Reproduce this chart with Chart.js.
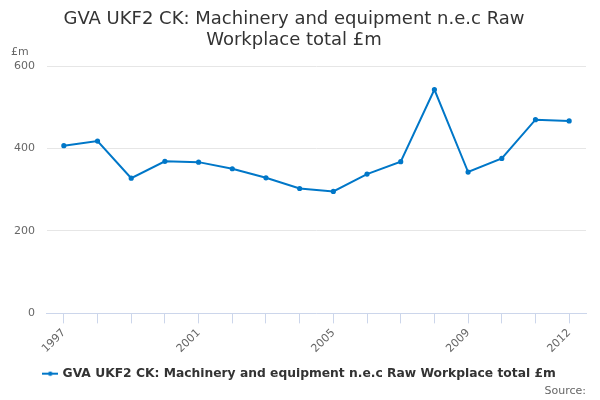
<!DOCTYPE html>
<html>
<head>
<meta charset="utf-8">
<script src="https://cdn.jsdelivr.net/npm/chart.js@4/dist/chart.umd.min.js"></script>
<style>
  html, body { margin: 0; padding: 0; background: #fff; }
  #wrap { width: 600px; height: 400px; }
</style>
</head>
<body>
<div id="wrap"><canvas id="gvaChart"></canvas></div>
<script>
const years = ['1997', '1998', '1999', '2000', '2001', '2002', '2003', '2004',
               '2005', '2006', '2007', '2008', '2009', '2010', '2011', '2012'];
const gvaValues = [407, 418, 328, 369, 367, 351, 329, 303, 296, 338, 368, 543, 343, 376, 470, 467];
const shownYears = ['1997', '2001', '2005', '2009', '2012'];
const yTicks = [0, 200, 400, 600];

const seriesName = 'GVA UKF2 CK: Machinery and equipment n.e.c Raw Workplace total £m';
const lineColor = '#0077c8';
Chart.defaults.font.family = '"DejaVu Sans", sans-serif';

// legend symbol: short line with a dot in the middle
const legendSymbol = document.createElement('canvas');
legendSymbol.width = 16;
legendSymbol.height = 6;
(function () {
    const c = legendSymbol.getContext('2d');
    c.fillStyle = lineColor;
    c.fillRect(0, 2, 16, 2);
    c.beginPath();
    c.arc(8, 3, 2.2, 0, Math.PI * 2);
    c.fill();
})();

// nudges the legend into place and draws the "£m" unit
const extras = {
    id: 'extras',
    afterLayout(chart) {
        const lg = chart.legend;
        lg.left += 6;
        lg.right += 6;
        lg.top += 5;
        lg.bottom += 5;
    },
    afterDraw(chart) {
        const ctx = chart.ctx;
        ctx.save();
        ctx.fillStyle = '#666';
        ctx.font = '11px "DejaVu Sans", sans-serif';
        ctx.textAlign = 'left';
        ctx.textBaseline = 'middle';
        ctx.fillText('£m', 11, chart.chartArea.top - 14);
        ctx.restore();
    }
};

document.addEventListener('DOMContentLoaded', () => {
    const ctx = document.getElementById('gvaChart').getContext('2d');
    new Chart(ctx, {
        type: 'line',
        data: {
            labels: years,
            datasets: [{
                label: seriesName,
                data: gvaValues,
                borderColor: lineColor,
                backgroundColor: lineColor,
                borderWidth: 2,
                pointRadius: 1.6,
                pointHoverRadius: 3,
                pointStyle: 'circle',
                tension: 0
            }]
        },
        options: {
            responsive: true,
            maintainAspectRatio: false,
            animation: false,
            layout: { padding: { left: 2, right: 14, top: 9, bottom: 0 } },
            plugins: {
                title: {
                    display: true,
                    text: ['GVA UKF2 CK: Machinery and equipment n.e.c Raw', 'Workplace total £m'],
                    color: '#333',
                    font: { size: 18, weight: 'normal', lineHeight: 1.17 },
                    padding: { top: 0, bottom: 15 }
                },
                subtitle: {
                    display: true,
                    position: 'bottom',
                    align: 'end',
                    text: 'Source:',
                    color: '#666',
                    font: { size: 11 },
                    padding: { top: 0, bottom: 2 }
                },
                legend: {
                    position: 'bottom',
                    labels: {
                        color: '#333',
                        font: { size: 12.3, weight: 'bold' },
                        usePointStyle: true,
                        pointStyle: legendSymbol,
                        boxWidth: 16,
                        padding: 4
                    }
                },
                tooltip: { enabled: false }
            },
            scales: {
                x: {
                    offset: true,
                    grid: {
                        offset: false,
                        drawOnChartArea: false,
                        color: '#ccd6eb',
                        tickLength: 10
                    },
                    border: { color: '#ccd6eb' },
                    ticks: {
                        autoSkip: false,
                        minRotation: 45,
                        maxRotation: 45,
                        color: '#666',
                        font: { size: 11 },
                        callback: function (value, index) {
                            const label = this.getLabelForValue(value);
                            return shownYears.includes(label) ? label : '';
                        }
                    }
                },
                y: {
                    min: 0,
                    max: 600,
                    afterBuildTicks: (axis) => { axis.ticks = yTicks.map(v => ({ value: v })); },
                    grid: { color: '#e6e6e6', drawTicks: false },
                    border: { display: false },
                    ticks: { color: '#666', font: { size: 11 }, padding: 12 }
                }
            }
        },
        plugins: [extras]
    });
});
</script>
</body>
</html>
